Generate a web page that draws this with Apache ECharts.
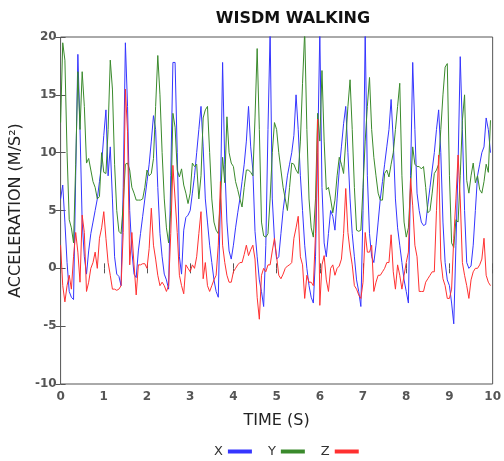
<!DOCTYPE html>
<html>
<head>
<meta charset="utf-8">
<script src="https://cdn.jsdelivr.net/npm/echarts@6/dist/echarts.min.js"></script>
<style>
  html, body { margin: 0; padding: 0; background: #fff; }
  #chart { width: 504px; height: 461px; }
</style>
</head>
<body>
<div id="chart"></div>
<script>
// Tri-axial accelerometer trace, 20 Hz sampling (m/s^2)
const SAMPLE_RATE = 20;
const seriesNames = ['X', 'Y', 'Z'];
const xTicks = [0, 1, 2, 3, 4, 5, 6, 7, 8, 9, 10];
const yTicks = [-10, -5, 0, 5, 10, 15, 20];

const accX = [
  6.0, 7.2, 4.0, 0.5, -2.0, -2.5, -2.7, 8.0, 18.5, 12.0,
  4.0, 1.0, -0.5, 1.5, 3.0, 4.0, 5.0, 6.0, 7.5, 9.0,
  11.5, 13.7, 8.0, 10.5, 6.0, 1.0, -0.5, -0.7, -1.5, 7.0,
  19.5, 14.0, 5.0, 1.5, -0.5, -0.8, 1.5, 3.0, 4.5, 6.0,
  7.5, 9.0, 11.0, 13.2, 12.0, 7.0, 3.0, 1.0, -0.5, -1.0,
  -1.8, 8.0, 17.8, 17.8, 10.0, 1.0, -0.5, 3.3, 4.4, 4.6,
  5.0, 6.5, 8.0, 10.0, 12.0, 14.0, 10.5, 6.0, 4.0, 2.0,
  0.5, -1.0, -2.0, -2.5, 6.0, 17.8, 9.0, 4.0, 1.5, 0.8,
  2.0, 3.5, 4.8, 6.0, 7.5, 9.0, 11.0, 14.0, 10.5, 8.5,
  3.2, 1.0, -1.0, -2.0, -3.3, 2.0, 12.0, 20.5, 6.0, 2.5,
  0.8, 1.0, 3.0, 5.0, 6.5, 8.0, 9.0, 10.0, 11.5, 15.0,
  12.0, 8.0, 5.0, 2.0, 0.0, -1.5, -2.5, -3.0, 1.0, 10.0,
  20.5, 7.0, 2.2, 1.0, 3.0, 5.0, 4.5, 3.3, 6.0, 8.5,
  10.5, 12.5, 14.0, 10.0, 6.0, 3.0, 1.0, -1.0, -2.0, -3.3,
  5.0, 20.5, 8.0, 3.0, 1.0, 0.5, 2.0, 4.0, 6.0, 7.5,
  9.0, 10.5, 12.0, 14.6, 11.0, 6.0, 3.5, 2.0, 0.5, -1.0,
  -2.0, -3.0, 8.0, 17.8, 12.0, 6.5, 5.0, 4.0, 3.7, 3.8,
  5.5, 7.0, 8.5, 10.0, 12.0, 13.7, 10.0, 4.0, 0.5, -1.0,
  -1.5, -3.0, -4.8, 2.0, 9.0, 18.3, 12.0, 5.0, 0.5, 0.0,
  0.2, 2.0, 5.0, 8.0, 9.0, 10.0, 10.5, 13.0, 12.0, 10.0
];

const accY = [
  12.6, 19.5, 18.0, 10.0, 4.2, 3.5, 2.2, 9.0, 17.0, 12.0,
  17.0, 14.0, 9.1, 9.5, 8.5, 7.5, 7.0, 6.0, 6.2, 10.0,
  8.3, 8.2, 12.0, 18.0, 15.5, 9.0, 5.0, 3.2, 3.0, 5.5,
  9.0, 9.1, 8.5, 7.0, 6.5, 5.9, 5.9, 5.9, 6.0, 7.0,
  8.5, 8.0, 8.2, 9.5, 14.0, 18.4, 15.0, 10.0, 6.0, 3.5,
  2.2, 5.0, 13.4, 12.2, 8.5, 7.9, 8.6, 7.2, 6.5, 5.6,
  6.5, 9.1, 8.8, 9.0, 6.0, 8.0, 13.0, 13.7, 14.0, 10.0,
  6.0, 4.0, 3.3, 3.0, 6.0, 9.6, 7.4, 13.1, 10.0, 9.1,
  8.8, 7.5, 6.8, 6.0, 5.3, 7.0, 8.5, 8.5, 8.3, 8.0,
  13.0, 19.0, 12.0, 4.0, 2.8, 2.7, 3.0, 6.0, 10.0, 12.6,
  12.0, 10.0, 8.5, 7.0, 6.0, 5.0, 7.0, 9.1, 9.0, 8.5,
  8.2, 11.0, 16.0, 20.5, 12.0, 6.0, 3.5, 2.7, 6.0, 13.4,
  11.0, 17.1, 11.0, 6.8, 7.0, 6.0, 4.8, 5.9, 8.0, 9.6,
  9.0, 8.2, 11.0, 14.0, 16.3, 12.0, 7.0, 3.3, 3.2, 3.3,
  7.0, 11.0, 14.0, 16.5, 12.0, 9.6, 8.0, 6.5, 5.9, 5.9,
  8.2, 8.5, 7.9, 9.0, 10.0, 12.0, 14.0, 16.0, 8.0, 4.0,
  2.7, 3.5, 7.0, 10.5, 9.0, 8.8, 8.8, 8.6, 8.8, 7.0,
  4.8, 5.0, 6.5, 8.2, 8.5, 9.0, 12.0, 15.0, 17.4, 17.7,
  8.0, 2.2, 1.8, 4.2, 4.0, 8.0, 12.8, 15.0, 7.6, 6.5,
  8.0, 9.1, 7.4, 8.0, 6.8, 6.5, 7.5, 9.0, 8.3, 12.8
];

const accZ = [
  2.0, -1.5, -2.9, -1.5, -0.6, -1.8, 1.0, 3.1, 1.4, -1.2,
  4.6, 3.1, -2.0, -1.2, 0.0, 0.5, 1.4, 0.0, 2.6, 3.5,
  4.9, 2.6, 0.5, -0.6, -1.8, -1.8, -1.9, -1.8, -1.5, 3.1,
  15.5, 11.8, 0.3, 3.1, 0.3, -2.3, 0.3, 0.3, 0.4, 0.4,
  0.0, 1.7, 5.2, 2.0, 0.8, -0.6, -1.5, -1.2, -1.5, -2.0,
  -1.5, 3.0, 8.9, 6.0, 3.1, -0.6, -1.5, -2.2, 0.3, 0.0,
  -0.3, 0.3, 0.0, 1.0, 3.0, 4.9, -0.9, 0.5, -1.5, -2.0,
  -1.5, -1.0, -0.6, 2.0, 7.5, 2.0, 0.5, -0.6, -1.2, -1.2,
  -0.3, 0.0, 0.3, 0.5, 0.5, 1.2, 2.0, 1.1, 1.6, 2.0,
  0.8, -2.5, -4.4, -0.6, 0.0, -0.3, 0.3, 0.3, 1.5, 2.6,
  1.0, -0.6, -0.9, -0.5, 0.0, 0.2, 0.3, 0.5, 2.6, 3.5,
  4.5, 1.0, 0.3, -2.6, -0.6, -1.2, -1.2, -1.5, 3.0, 12.9,
  -3.2, 0.3, 1.1, -1.0, -2.0, 0.0, 0.3, -0.6, 0.0, 0.2,
  0.8, 3.0, 6.9, 3.1, 1.5, 0.3, -1.5, -1.8, -2.3, -2.6,
  -1.2, 3.1, 1.4, 1.4, 2.0, -2.0, -1.2, -0.6, -0.6, -0.3,
  0.0, 0.5, 0.5, 2.9, -0.3, -1.8, 0.3, -0.6, -1.8, -0.6,
  0.5, 1.4, 7.8, 5.4, 2.0, 1.0, -2.0, -2.0, -2.0, -1.2,
  -0.9, -0.6, -0.3, -0.3, 5.0, 9.8, 0.8, -0.9, -1.5, -2.6,
  -2.6, -1.8, 2.6, 6.0, 9.8, 6.0, 0.5, -0.6, -1.5, -2.6,
  -1.0, -0.3, 0.0, 0.0, 0.3, 0.8, 2.6, -0.6, -1.2, -1.5
];

const colors = ['#3535ff', '#3a8a2c', '#ff3030'];
const traces = [accX, accY, accZ];

function toPoints(values) {
  return values.map((v, i) => [i / SAMPLE_RATE, v]);
}

const FONT = 'DejaVu Sans';
const frame = '#555555';

const chart = echarts.init(document.getElementById('chart'), null, { renderer: 'canvas' });

const hiddenAxis = {
  axisLabel: { show: false },
  splitLine: { show: false },
  axisLine: { show: false },
  axisTick: { show: true, inside: true, length: 5, lineStyle: { color: frame } }
};

chart.setOption({
  animation: false,
  backgroundColor: '#ffffff',
  title: {
    text: 'WISDM WALKING',
    left: 288,
    top: 6,
    textAlign: 'center',
    textStyle: { fontFamily: FONT, fontWeight: 'bold', fontSize: 16, color: '#111' }
  },
  legend: {
    data: seriesNames,
    left: 209,
    top: 440,
    align: 'right',
    icon: 'rect',
    itemWidth: 24,
    itemHeight: 4,
    itemGap: 16,
    textStyle: { fontFamily: FONT, fontSize: 13, color: '#333', padding: [0, 0, 0, 0] }
  },
  grid: {
    left: 57, right: 10, top: 37, bottom: 77,
    show: true, borderColor: frame, borderWidth: 1, backgroundColor: 'transparent'
  },
  xAxis: [
    {
      type: 'value',
      min: xTicks[0],
      max: xTicks[xTicks.length - 1],
      interval: 1,
      name: 'TIME (S)',
      nameLocation: 'middle',
      nameGap: 29,
      nameTextStyle: { fontFamily: FONT, fontSize: 16, color: '#222' },
      axisLine: { show: false },
      axisTick: { show: true, inside: true, length: 5, lineStyle: { color: frame } },
      axisLabel: { fontFamily: FONT, fontSize: 12, fontWeight: 'bold', color: '#555', margin: 7 },
      splitLine: { show: false }
    },
    Object.assign({ type: 'value', position: 'top', min: 0, max: 10, interval: 1 }, hiddenAxis)
  ],
  yAxis: [
    {
      type: 'value',
      min: yTicks[0],
      max: yTicks[yTicks.length - 1],
      interval: 5,
      name: 'ACCELERATION (M/S²)',
      nameLocation: 'middle',
      nameGap: 30,
      nameTextStyle: { fontFamily: FONT, fontSize: 16, color: '#222' },
      axisLine: { show: false },
      axisTick: { show: true, inside: true, length: 5, lineStyle: { color: frame } },
      axisLabel: { fontFamily: FONT, fontSize: 12, fontWeight: 'bold', color: '#555', margin: 4 },
      splitLine: { show: false }
    },
    Object.assign({ type: 'value', position: 'right', min: -10, max: 20, interval: 5 }, hiddenAxis)
  ],
  series: traces.map((vals, k) => ({
    name: seriesNames[k],
    type: 'line',
    xAxisIndex: 0,
    yAxisIndex: 0,
    data: toPoints(vals),
    showSymbol: false,
    symbol: 'none',
    clip: true,
    color: colors[k],
    lineStyle: { width: 1, color: colors[k] }
  }))
});
</script>
</body>
</html>
